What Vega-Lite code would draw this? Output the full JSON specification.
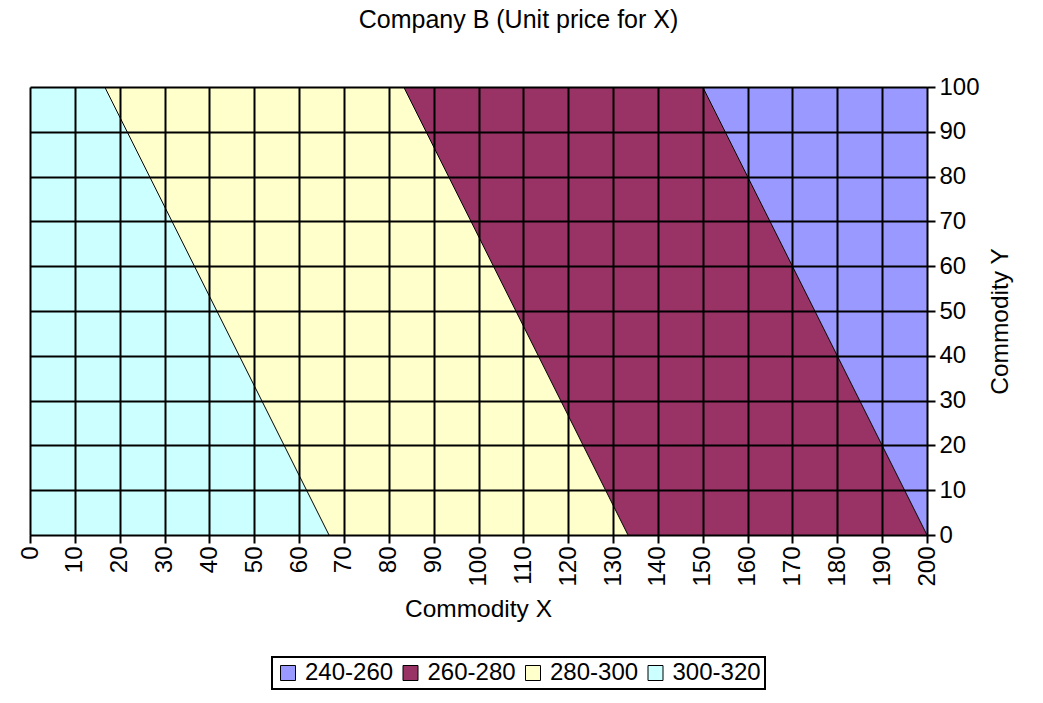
{
  "$schema": "https://vega.github.io/schema/vega-lite/v6.json",
  "width": 897,
  "height": 448,
  "autosize": {"type": "none"},
  "padding": {"left": 30, "top": 87, "right": 116, "bottom": 168},
  "background": "white",
  "title": {
    "text": "Company B (Unit price for X)",
    "anchor": "middle",
    "dx": 40,
    "offset": 42,
    "fontSize": 25,
    "font": "Liberation Sans",
    "fontWeight": "normal",
    "color": "black"
  },
  "config": {
    "font": "Liberation Sans",
    "view": {"stroke": "black", "strokeWidth": 1},
    "axis": {
      "grid": true,
      "gridColor": "black",
      "gridWidth": 2,
      "gridOpacity": 1,
      "domainColor": "black",
      "domainWidth": 1,
      "tickColor": "black",
      "tickWidth": 2,
      "tickSize": 8,
      "labelColor": "black",
      "labelFontSize": 24,
      "labelFont": "Liberation Sans",
      "titleColor": "black",
      "titleFontSize": 24.5,
      "titleFont": "Liberation Sans",
      "titleFontWeight": "normal"
    },
    "legend": {
      "labelFontSize": 24,
      "labelFont": "Liberation Sans",
      "labelColor": "black",
      "symbolStrokeColor": "black",
      "symbolStrokeWidth": 1,
      "symbolType": "square",
      "symbolSize": 225,
      "strokeColor": "black",
      "strokeWidth": 2,
      "fillColor": "white",
      "padding": 4
    }
  },
  "datasets": {
    "bands": [
      {"band": "300-320", "y": 0, "x": 0, "x2": 66.667},
      {"band": "300-320", "y": 100, "x": 0, "x2": 16.667},
      {"band": "280-300", "y": 0, "x": 66.667, "x2": 133.333},
      {"band": "280-300", "y": 100, "x": 16.667, "x2": 83.333},
      {"band": "260-280", "y": 0, "x": 133.333, "x2": 200},
      {"band": "260-280", "y": 100, "x": 83.333, "x2": 150},
      {"band": "240-260", "y": 0, "x": 200, "x2": 200},
      {"band": "240-260", "y": 100, "x": 150, "x2": 200}
    ],
    "bounds": [
      {"id": "300", "x": 66.667, "y": 0},
      {"id": "300", "x": 16.667, "y": 100},
      {"id": "280", "x": 133.333, "y": 0},
      {"id": "280", "x": 83.333, "y": 100},
      {"id": "260", "x": 200, "y": 0},
      {"id": "260", "x": 150, "y": 100}
    ]
  },
  "layer": [
    {
      "data": {"name": "bands"},
      "mark": {"type": "area", "orient": "horizontal"},
      "encoding": {
        "y": {
          "field": "y",
          "type": "quantitative",
          "scale": {"domain": [0, 100], "nice": false},
          "axis": {
            "zindex": 2,
            "orient": "right",
            "values": [0, 10, 20, 30, 40, 50, 60, 70, 80, 90, 100],
            "title": "Commodity Y",
            "labelPadding": 4,
            "titleAngle": 270,
            "titleX": 73,
            "titleY": 234,
            "titleAlign": "center",
            "titleBaseline": "middle"
          }
        },
        "x": {
          "field": "x",
          "type": "quantitative",
          "scale": {"domain": [0, 200], "nice": false},
          "axis": {
            "zindex": 2,
            "values": [0, 10, 20, 30, 40, 50, 60, 70, 80, 90, 100, 110, 120, 130, 140, 150, 160, 170, 180, 190, 200],
            "title": "Commodity X",
            "labelAngle": 270,
            "labelPadding": 3,
            "titleX": 448,
            "titleY": 74,
            "titleAlign": "center",
            "titleBaseline": "middle"
          }
        },
        "x2": {"field": "x2"},
        "color": {
          "field": "band",
          "type": "nominal",
          "scale": {
            "domain": ["240-260", "260-280", "280-300", "300-320"],
            "range": ["#9999FF", "#993366", "#FFFFCC", "#CCFFFF"]
          },
          "legend": {
            "title": null,
            "orient": "none",
            "direction": "horizontal",
            "legendX": 242,
            "legendY": 570,
            "labelOffset": 5,
            "columnPadding": 4.5
          }
        }
      }
    },
    {
      "data": {"name": "bounds"},
      "mark": {"type": "line", "color": "black", "strokeWidth": 1},
      "encoding": {
        "x": {"field": "x", "type": "quantitative"},
        "y": {"field": "y", "type": "quantitative"},
        "detail": {"field": "id"}
      }
    }
  ]
}
